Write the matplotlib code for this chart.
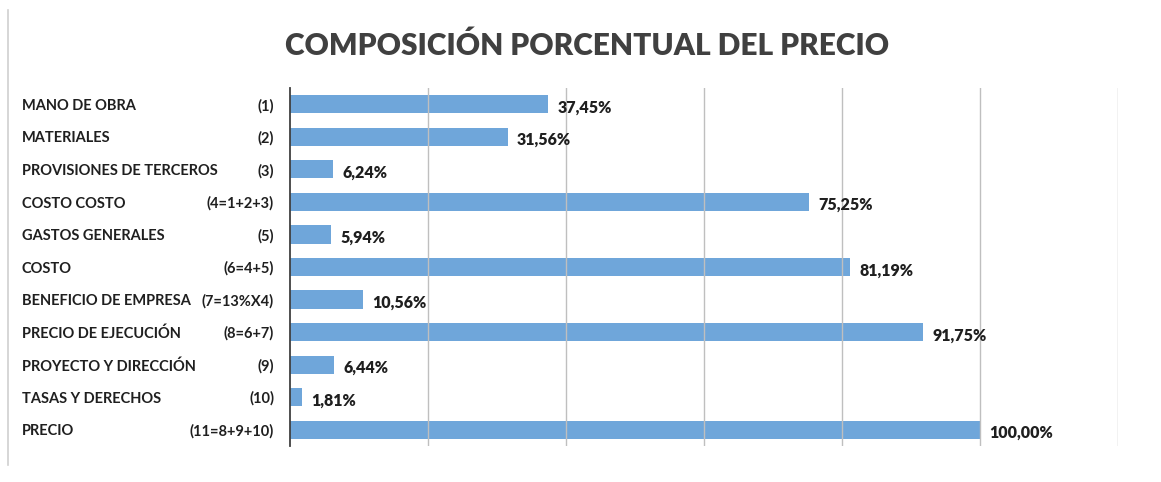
import matplotlib
matplotlib.use('Agg')
import matplotlib.pyplot as plt
from matplotlib.lines import Line2D
from matplotlib.transforms import blended_transform_factory

plt.rcParams['font.family'] = ['Lato', 'DejaVu Sans']

# data
names = ['MANO DE OBRA', 'MATERIALES', 'PROVISIONES DE TERCEROS', 'COSTO COSTO',
         'GASTOS GENERALES', 'COSTO', 'BENEFICIO DE EMPRESA', 'PRECIO DE EJECUCIÓN',
         'PROYECTO Y DIRECCIÓN', 'TASAS Y DERECHOS', 'PRECIO']
codes = ['(1)', '(2)', '(3)', '(4=1+2+3)', '(5)', '(6=4+5)', '(7=13%X4)',
         '(8=6+7)', '(9)', '(10)', '(11=8+9+10)']
values = [37.45, 31.56, 6.24, 75.25, 5.94, 81.19, 10.56, 91.75, 6.44, 1.81, 100.00]

W, H = 1161, 482
fig = plt.figure(figsize=(W / 100, H / 100), dpi=100)
ax = fig.add_axes([290 / W, 1 - 446 / H, (1118 - 290) / W, (446 - 88) / H])

bar_color = '#6FA6DA'
text_color = '#1F1F1F'
ypos = list(range(len(values)))
ax.barh(ypos, values, height=0.56, color=bar_color, zorder=2)

ax.set_xlim(0, 120)
ax.set_ylim(len(values) - 0.5, -0.5)
ax.set_xticks([20, 40, 60, 80, 100, 120])
ax.set_xticklabels([])
ax.tick_params(axis='x', length=0)
ax.set_yticks([])
ax.grid(axis='x', color='#BFBFBF', linewidth=1.0, zorder=3)
ax.set_axisbelow(False)
for side in ['top', 'right', 'bottom']:
    ax.spines[side].set_visible(False)
ax.spines['left'].set_color('#404040')
ax.spines['left'].set_linewidth(1.3)
ax.spines['left'].set_zorder(4)

for y, v in zip(ypos, values):
    ax.text(v + 1.3, y + 0.1, f'{v:.2f}'.replace('.', ',') + '%',
            ha='left', va='center', fontsize=11.5, fontweight='heavy',
            color=text_color, zorder=5)

trans = blended_transform_factory(fig.transFigure, ax.transData)
for y, n, c in zip(ypos, names, codes):
    ax.text(22 / W, y + 0.05, n, transform=trans, ha='left', va='center',
            fontsize=10.5, fontweight='bold', color=text_color, clip_on=False)
    ax.text(274 / W, y + 0.05, c, transform=trans, ha='right', va='center',
            fontsize=10.5, fontweight='bold', color=text_color, clip_on=False)

fig.text(587 / W, 1 - 46 / H, 'COMPOSICIÓN PORCENTUAL DEL PRECIO',
         ha='center', va='center', fontsize=21.5, fontweight='heavy', color='#404040')

fig.add_artist(Line2D([8 / W, 8 / W], [1 - 465 / H, 1 - 10 / H],
                      transform=fig.transFigure, color='#D0D0D0', linewidth=1.2))

fig.savefig('out.png', dpi=100)
